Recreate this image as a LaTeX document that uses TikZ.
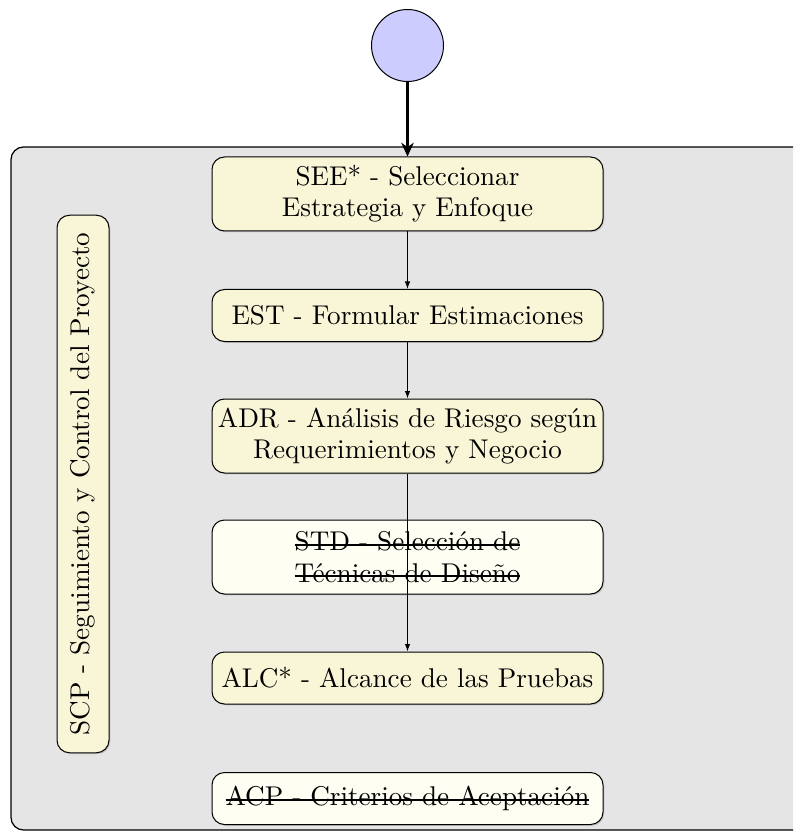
\documentclass[tikz,border=0pt]{standalone}
\usepackage{fontspec}
\usetikzlibrary{arrows.meta,shadows}

\definecolor{lanebg}{RGB}{229,229,229}
\definecolor{taskfill}{RGB}{249,246,216}
\definecolor{dropfill}{RGB}{254,254,242}
\definecolor{startfill}{RGB}{204,204,255}

% struck-out text (one line)
\newsavebox\strkbox
\newcommand\strk[1]{\leavevmode\sbox\strkbox{#1}\makebox[0pt][l]{\usebox\strkbox}\rule[1.9pt]{\wd\strkbox}{0.8pt}}

\tikzset{
  lane/.style={draw=black, line width=0.5pt, fill=lanebg, rounded corners=5pt},
  task/.style={draw=black, line width=0.4pt, fill=taskfill, rounded corners=5pt,
    text width=152pt, align=center, inner sep=2pt, minimum width=156.4pt,
    font=\fontsize{10.85}{12.5}\selectfont,
    drop shadow={shadow xshift=0.5pt, shadow yshift=-0.5pt, opacity=0.35}},
  onetask/.style={task, minimum height=20.8pt},
  twotask/.style={task, minimum height=29.6pt},
  dropped/.style={fill=dropfill},
  sidetask/.style={draw=black, line width=0.4pt, fill=taskfill, rounded corners=5pt,
    rotate=90, minimum width=215pt, minimum height=20.8pt, inner sep=2pt,
    font=\fontsize{10.85}{12.5}\selectfont,
    drop shadow={shadow xshift=0.5pt, shadow yshift=-0.5pt, opacity=0.35}},
  start/.style={circle, draw=black, line width=0.4pt, fill=startfill, minimum size=28.8pt, inner sep=0pt},
  flow/.style={-{Latex[length=3pt,width=2.2pt]}, line width=0.4pt},
  entry/.style={-{Stealth[length=5.5pt,width=5pt]}, line width=1.2pt}
}

\begin{document}
\begin{tikzpicture}[x=0.4pt, y=-0.4pt]
  \useasboundingbox (0,0) rectangle (793,831);
  \clip (0,0) rectangle (793,831);

  % process lane, running off the right edge
  \path[lane] (11,147) rectangle (830,830);

  % start event
  \node[start] (ini) at (407.5,45.5) {};

  % activities
  \node[twotask] (see) at (407.5,194) {SEE* - Seleccionar\\Estrategia y Enfoque};
  \node[onetask] (est) at (407.5,315.5) {EST - Formular Estimaciones};
  \node[twotask] (adr) at (407.5,436) {ADR - Análisis de Riesgo según\\Requerimientos y Negocio};
  \node[twotask, dropped] (std) at (407.5,557) {\strk{STD - Selección de}\\\strk{Técnicas de Diseño}};
  \node[onetask] (alc) at (407.5,678) {ALC* - Alcance de las Pruebas};
  \node[onetask, dropped] (acp) at (407.5,798.5) {\strk{ACP - Criterios de Aceptación}};

  % cross-cutting activity
  \node[sidetask] (scp) at (83,484) {SCP - Seguimiento y Control del Proyecto};

  % sequence flow
  \draw[entry] (ini) -- (see);
  \draw[flow] (see) -- (est);
  \draw[flow] (est) -- (adr);
  \draw[flow] (adr) -- (alc);
\end{tikzpicture}
\end{document}
